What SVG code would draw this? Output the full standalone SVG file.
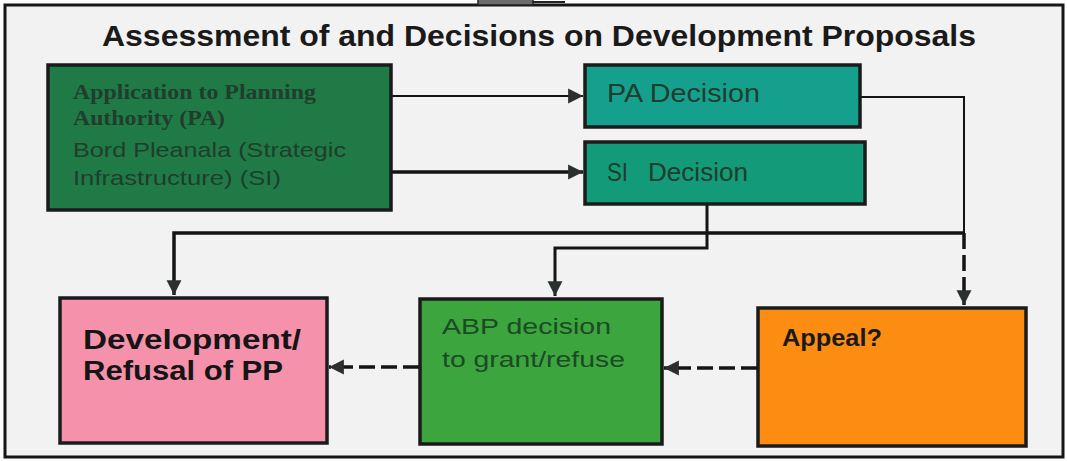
<svg xmlns="http://www.w3.org/2000/svg" width="1067" height="461" viewBox="0 0 1067 461">
<defs>
<marker id="ah" markerUnits="userSpaceOnUse" markerWidth="16" markerHeight="16" viewBox="0 0 14 14" refX="13" refY="7" orient="auto">
<path d="M0,0.5 L13,7 L0,13.5 z" fill="#2b2f2d"/>
</marker>
<style>
.box{stroke:#1b1b1b;stroke-width:3.5}
.con{fill:none;stroke:#141414}
.dash{stroke-dasharray:16 6}
.sans{font-family:"Liberation Sans",Arial,sans-serif}
.serif{font-family:"Liberation Serif","Times New Roman",serif;font-weight:bold}
.dk{fill:#203d2d}
</style>
</defs>
<rect x="0" y="0" width="1067" height="461" fill="#ffffff"/>
<rect x="5" y="5" width="1058" height="452" fill="#f2f2f2" stroke="#161616" stroke-width="3"/>
<g id="top-tab">
<rect x="478" y="-2" width="55" height="7" fill="#6c6c6c" stroke="#222" stroke-width="1.5"/>
<line x1="533" y1="2" x2="565" y2="2" stroke="#222" stroke-width="2"/>
</g>
<text id="title" class="sans" x="102" y="46" font-size="30" font-weight="bold" fill="#1a1a1a" textLength="874" lengthAdjust="spacingAndGlyphs">Assessment of and Decisions on Development Proposals</text>

<g id="connectors">
<path class="con" d="M391,96 H583" stroke-width="2" marker-end="url(#ah)"/>
<path class="con" d="M391,172 H583" stroke-width="3.5" marker-end="url(#ah)"/>
<path class="con" d="M860,97 H964 V233" stroke-width="2"/>
<path class="con dash" d="M964,233 V305" stroke-width="3.5" marker-end="url(#ah)"/>
<path class="con" d="M964,233 H174 V295" stroke-width="3.5" marker-end="url(#ah)"/>
<path class="con" d="M707,204 V248 H555 V296" stroke-width="3" marker-end="url(#ah)"/>
<path class="con dash" d="M757,368 H664" stroke-width="3.5" marker-end="url(#ah)"/>
<path class="con dash" d="M419,367 H329" stroke-width="3.5" marker-end="url(#ah)"/>
</g>

<g id="application">
<rect class="box" x="48" y="65" width="343" height="145" fill="#1f7a46"/>
<text class="serif dk" x="73" y="99" font-size="20" textLength="243" lengthAdjust="spacingAndGlyphs">Application to Planning</text>
<text class="serif dk" x="73" y="125" font-size="20" textLength="152" lengthAdjust="spacingAndGlyphs">Authority (PA)</text>
<text class="sans dk" x="73" y="157" font-size="21" textLength="273" lengthAdjust="spacingAndGlyphs">Bord Pleanala (Strategic</text>
<text class="sans dk" x="73" y="185" font-size="21" textLength="208" lengthAdjust="spacingAndGlyphs">Infrastructure) (SI)</text>
</g>

<g id="pa-decision">
<rect class="box" x="585" y="65" width="275" height="62" fill="#15a08e"/>
<text class="sans dk" x="607" y="102" font-size="25" textLength="153" lengthAdjust="spacingAndGlyphs">PA Decision</text>
</g>

<g id="si-decision">
<rect class="box" x="585" y="142" width="280" height="62" fill="#139a78"/>
<text class="sans dk" font-size="25"><tspan x="607" y="181" textLength="21" lengthAdjust="spacingAndGlyphs">SI</tspan><tspan x="648" y="181" textLength="100" lengthAdjust="spacingAndGlyphs">Decision</tspan></text>
</g>

<g id="development">
<rect class="box" x="60" y="298" width="267" height="145" fill="#f591aa"/>
<text class="sans" x="83" y="349" font-size="27" font-weight="bold" fill="#151515" textLength="218" lengthAdjust="spacingAndGlyphs">Development/</text>
<text class="sans" x="83" y="380" font-size="27" font-weight="bold" fill="#151515" textLength="200" lengthAdjust="spacingAndGlyphs">Refusal of PP</text>
</g>

<g id="abp-decision">
<rect class="box" x="420" y="299" width="242" height="145" fill="#3ca53d"/>
<text class="sans" x="442" y="334" font-size="22" fill="#1d4a26" textLength="169" lengthAdjust="spacingAndGlyphs">ABP decision</text>
<text class="sans" x="442" y="367" font-size="22" fill="#1d4a26" textLength="183" lengthAdjust="spacingAndGlyphs">to grant/refuse</text>
</g>

<g id="appeal">
<rect class="box" x="758" y="308" width="268" height="138" fill="#fd8c13"/>
<text class="sans" x="782" y="346" font-size="23" font-weight="bold" fill="#1a1a1a" textLength="100" lengthAdjust="spacingAndGlyphs">Appeal?</text>
</g>
</svg>
